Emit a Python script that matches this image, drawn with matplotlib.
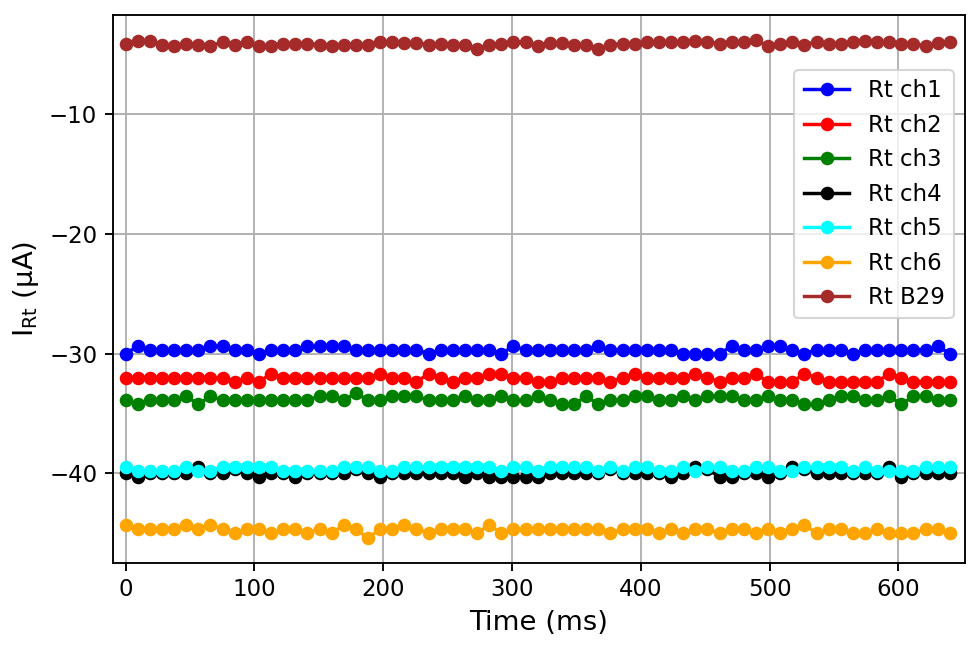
import numpy as np
import matplotlib
matplotlib.use("Agg")
import matplotlib.pyplot as plt

# time axis (ms), 69 samples
time_ms = np.linspace(0, 640, 69)

ch1 = [-30.0, -29.4, -29.7, -29.7, -29.7, -29.7, -29.7, -29.4, -29.4, -29.7,
       -29.7, -30.0, -29.7, -29.7, -29.7, -29.4, -29.4, -29.4, -29.4, -29.7,
       -29.7, -29.7, -29.7, -29.7, -29.7, -30.0, -29.7, -29.7, -29.7, -29.7,
       -29.7, -30.0, -29.4, -29.7, -29.7, -29.7, -29.7, -29.7, -29.7, -29.4,
       -29.7, -29.7, -29.7, -29.7, -29.7, -29.7, -30.0, -30.0, -30.0, -30.0,
       -29.4, -29.7, -29.7, -29.4, -29.4, -29.7, -30.0, -29.7, -29.7, -29.7,
       -30.0, -29.7, -29.7, -29.7, -29.7, -29.7, -29.7, -29.4, -30.0]

ch2 = [-32.0, -32.0, -32.0, -32.0, -32.0, -32.0, -32.0, -32.0, -32.0, -32.35,
       -32.0, -32.35, -31.7, -32.0, -32.0, -32.0, -32.0, -32.0, -32.0, -32.0,
       -32.0, -31.7, -32.0, -32.0, -32.35, -31.7, -32.0, -32.35, -32.0, -32.0,
       -31.7, -31.7, -32.0, -32.0, -32.35, -32.35, -32.0, -32.0, -32.0, -32.0,
       -32.35, -32.0, -31.7, -32.0, -32.0, -32.0, -32.0, -31.7, -32.0, -32.35,
       -32.0, -32.0, -31.7, -32.35, -32.35, -32.35, -31.7, -32.0, -32.35, -32.35,
       -32.35, -32.35, -32.35, -31.7, -32.0, -32.35, -32.35, -32.35, -32.35]

ch3 = [-33.9, -34.25, -33.9, -33.9, -33.9, -33.55, -34.25, -33.55, -33.9, -33.9,
       -33.9, -33.9, -33.9, -33.9, -33.9, -33.9, -33.55, -33.55, -33.9, -33.3,
       -33.9, -33.9, -33.55, -33.55, -33.55, -33.9, -33.9, -33.9, -33.55, -33.9,
       -33.9, -33.55, -33.9, -33.9, -33.55, -33.9, -34.25, -34.25, -33.55, -34.25,
       -33.9, -33.9, -33.55, -33.55, -33.9, -33.9, -33.55, -33.9, -33.55, -33.55,
       -33.55, -33.9, -33.9, -33.55, -33.9, -33.9, -34.25, -34.25, -33.9, -33.55,
       -33.55, -33.9, -33.9, -33.55, -34.25, -33.55, -33.55, -33.9, -33.9]

ch4 = [-40.0, -40.3, -40.0, -40.0, -40.0, -40.0, -39.45, -40.0, -40.0, -39.65,
       -40.0, -40.3, -40.0, -40.0, -40.3, -40.0, -40.0, -40.0, -40.0, -39.65,
       -40.0, -40.3, -40.0, -40.0, -40.0, -40.0, -40.0, -40.0, -40.3, -40.0,
       -40.3, -40.3, -40.3, -40.3, -40.3, -40.0, -40.0, -40.0, -40.0, -40.0,
       -39.65, -40.0, -40.0, -40.0, -40.0, -40.3, -40.0, -39.45, -39.65, -40.3,
       -40.3, -40.0, -40.0, -40.3, -40.0, -39.45, -39.65, -40.0, -40.0, -40.0,
       -40.0, -40.0, -40.0, -39.45, -40.3, -40.0, -40.0, -40.0, -40.0]

ch5 = [-39.45, -39.8, -39.8, -39.8, -39.8, -39.45, -39.8, -39.8, -39.45, -39.45,
       -39.45, -39.45, -39.45, -39.8, -39.8, -39.8, -39.8, -39.8, -39.45, -39.45,
       -39.45, -39.8, -39.8, -39.45, -39.45, -39.45, -39.45, -39.45, -39.45, -39.45,
       -39.45, -39.8, -39.45, -39.45, -39.8, -39.45, -39.45, -39.45, -39.45, -39.8,
       -39.45, -39.8, -39.45, -39.45, -39.8, -39.8, -39.45, -39.8, -39.45, -39.45,
       -39.8, -39.8, -39.45, -39.45, -39.8, -39.8, -39.45, -39.45, -39.45, -39.45,
       -39.8, -39.45, -39.8, -39.8, -39.8, -39.8, -39.45, -39.45, -39.45]

ch6 = [-44.3, -44.65, -44.65, -44.65, -44.65, -44.3, -44.65, -44.3, -44.65, -45.0,
       -44.65, -44.65, -45.0, -44.65, -44.65, -45.0, -44.65, -45.0, -44.3, -44.65,
       -45.4, -44.65, -44.65, -44.3, -44.65, -45.0, -44.65, -44.65, -44.65, -45.0,
       -44.3, -45.0, -44.65, -44.65, -44.65, -44.65, -44.65, -44.65, -44.65, -44.65,
       -45.0, -44.65, -44.65, -44.65, -45.0, -44.65, -45.0, -44.65, -44.65, -45.0,
       -44.65, -44.65, -45.0, -44.65, -45.0, -44.65, -44.3, -45.0, -44.65, -44.65,
       -45.0, -45.0, -44.65, -45.0, -45.0, -45.0, -44.65, -44.65, -45.0]

b29 = [-4.12, -3.92, -3.86, -4.20, -4.33, -4.12, -4.20, -4.33, -3.97, -4.20,
       -3.97, -4.33, -4.33, -4.12, -4.12, -4.12, -4.20, -4.33, -4.20, -4.20,
       -4.20, -3.97, -3.97, -4.03, -4.03, -4.20, -4.12, -4.20, -4.20, -4.53,
       -4.25, -4.12, -3.97, -3.97, -4.28, -4.08, -4.08, -4.20, -4.20, -4.53,
       -4.20, -4.12, -4.12, -3.97, -3.97, -3.97, -3.97, -3.86, -3.97, -4.12,
       -3.97, -3.97, -3.80, -4.33, -4.12, -3.97, -4.20, -3.97, -4.12, -4.12,
       -3.97, -3.86, -3.97, -3.97, -4.12, -4.12, -4.33, -4.08, -3.97]

labels = ["Rt ch1", "Rt ch2", "Rt ch3", "Rt ch4", "Rt ch5", "Rt ch6", "Rt B29"]
colors = ["blue", "red", "green", "black", "cyan", "orange", "brown"]

plt.rcParams["axes.linewidth"] = 0.9
plt.rcParams["xtick.major.size"] = 3.9
plt.rcParams["ytick.major.size"] = 3.9
plt.rcParams["xtick.major.width"] = 0.9
plt.rcParams["ytick.major.width"] = 0.9
plt.rcParams["grid.linewidth"] = 0.9

fig, ax = plt.subplots(figsize=(980 / 150, 647 / 150), dpi=150)
fig.subplots_adjust(left=0.115, right=0.985, top=0.977, bottom=0.130)

for y, lab, col in zip([ch1, ch2, ch3, ch4, ch5, ch6, b29], labels, colors):
    ax.plot(time_ms, y, marker="o", markersize=5.5, linewidth=1.65, color=col, label=lab)

ax.set_xlim(-10, 652)
ax.set_xlabel("Time (ms)", fontsize=13.2)
ax.set_ylabel(r"I$_{\mathrm{Rt}}$ (µA)", fontsize=13.2)
ax.tick_params(labelsize=11)
ax.grid(True)
ax.legend(loc="upper right", bbox_to_anchor=(1, 0.92), fontsize=11)

fig.savefig("out.png", dpi=150)
